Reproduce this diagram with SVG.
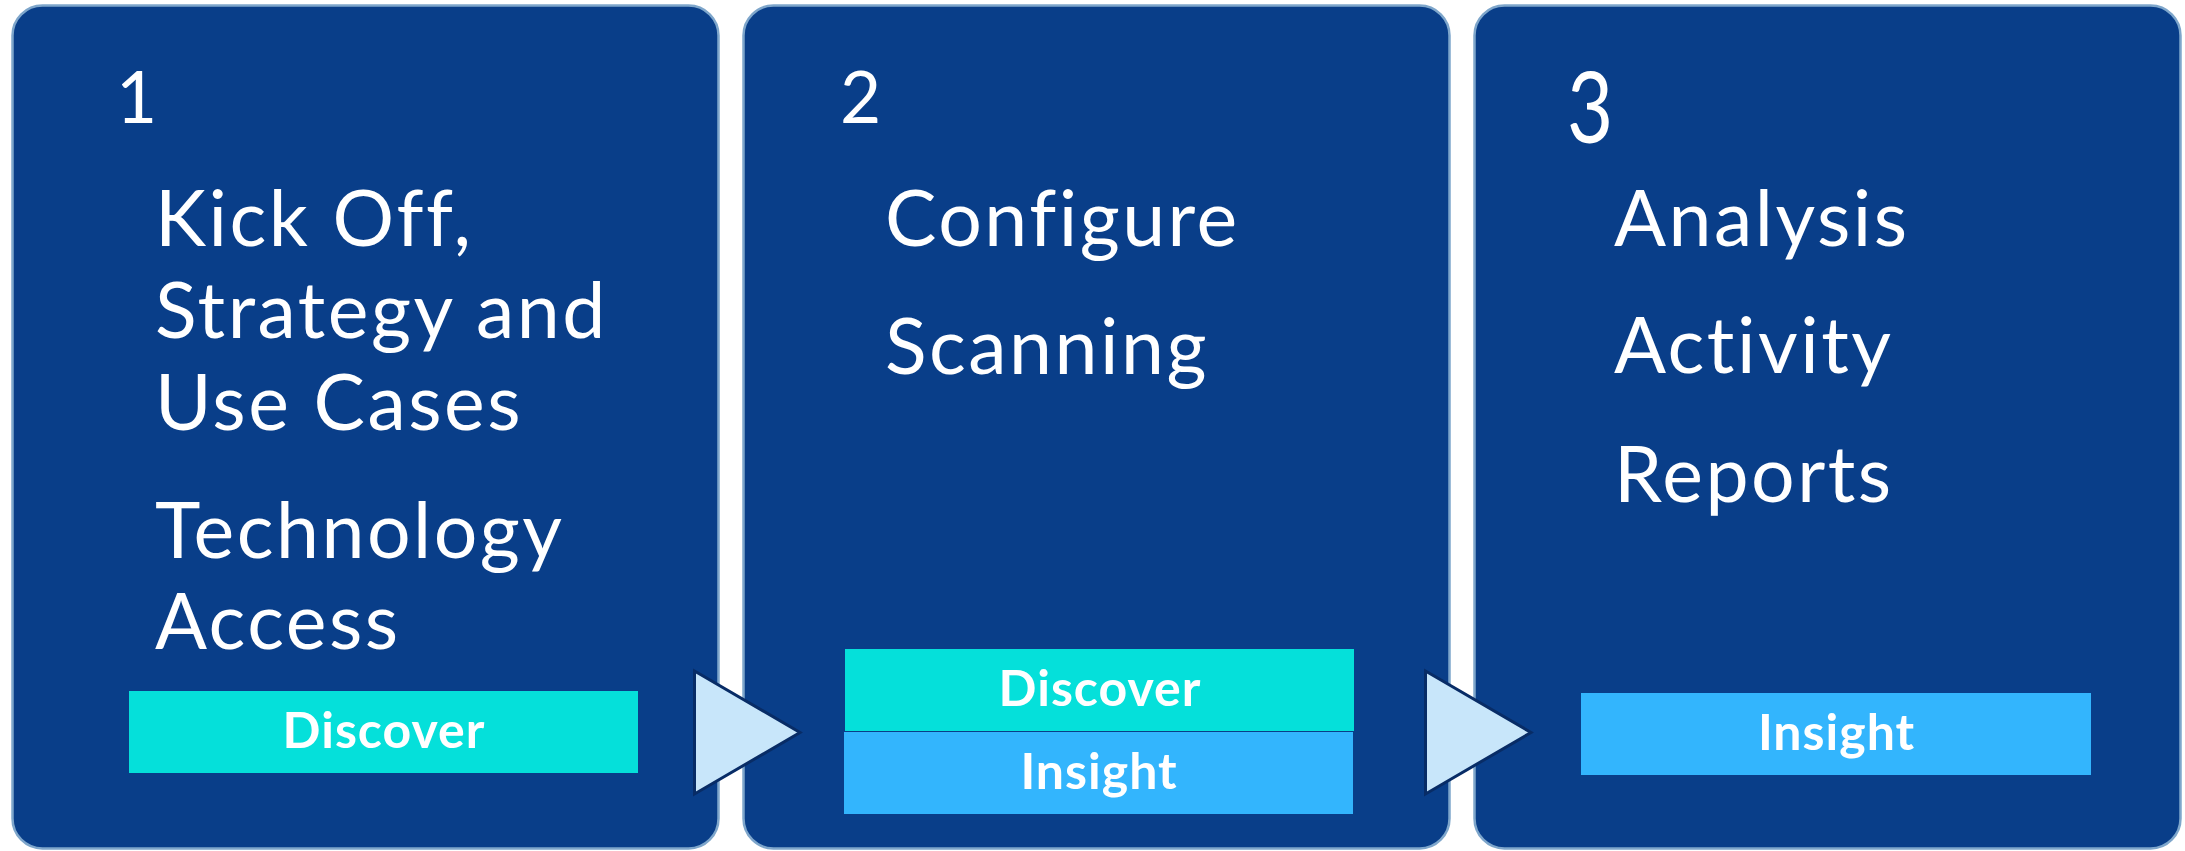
<svg xmlns="http://www.w3.org/2000/svg" width="2185" height="851" viewBox="0 0 2185 851">
<style>
.panel{fill:#093E89;stroke:#7EA6CB;stroke-width:2.5}
.main{font-family:Lato,"Noto Sans","Liberation Sans",sans-serif;font-size:77px;letter-spacing:2.5px;fill:#FFFFFF}
.num{font-family:Lato,"Noto Sans","Liberation Sans",sans-serif;font-size:71px;fill:#FFFFFF}
.lbl{font-family:Lato,"Noto Sans","Liberation Sans",sans-serif;font-size:50px;letter-spacing:1px;font-weight:bold;fill:#FFFFFF;text-anchor:middle}
.disc{fill:#05E0DA}
.ins{fill:#33B5FD}
.tri{fill:#C8E6FA;stroke:#082C66;stroke-width:3;stroke-linejoin:miter}
</style>
<rect x="0" y="0" width="2185" height="851" fill="#FFFFFF"/>
<g id="panel-1">
<rect class="panel" x="12.5" y="5.5" width="706" height="843" rx="30" ry="30"/>
<text class="num" x="116" y="123">1</text>
<text class="main" x="155" y="246">Kick Off,</text>
<text class="main" x="155" y="338">Strategy and</text>
<text class="main" x="155" y="430">Use Cases</text>
<text class="main" x="155" y="558">Technology</text>
<text class="main" x="155" y="649">Access</text>
<rect class="disc" x="129" y="691" width="509" height="82"/>
<text class="lbl" x="384" y="748">Discover</text>
</g>
<g id="panel-2">
<rect class="panel" x="743.5" y="5.5" width="706" height="843" rx="30" ry="30"/>
<text class="num" x="840" y="123">2</text>
<text class="main" x="885" y="246">Configure</text>
<text class="main" x="885" y="374">Scanning</text>
<rect class="disc" x="845" y="649" width="509" height="82"/>
<text class="lbl" x="1100" y="706">Discover</text>
<rect class="ins" x="844" y="732" width="509" height="82"/>
<text class="lbl" x="1099" y="789">Insight</text>
</g>
<g id="panel-3">
<rect class="panel" x="1474.5" y="5.5" width="706" height="843" rx="30" ry="30"/>
<text class="num" transform="translate(1567,143) scale(1.12,1.39)" x="0" y="0">3</text>
<text class="main" x="1614" y="246">Analysis</text>
<text class="main" x="1614" y="373">Activity</text>
<text class="main" x="1614" y="502">Reports</text>
<rect class="ins" x="1581" y="693" width="510" height="82"/>
<text class="lbl" x="1836.5" y="750">Insight</text>
</g>
<g id="connectors">
<polygon class="tri" points="694.5,671 800,732.5 694.5,794"/>
<polygon class="tri" points="1425.5,671 1531,732.5 1425.5,794"/>
</g>
</svg>
